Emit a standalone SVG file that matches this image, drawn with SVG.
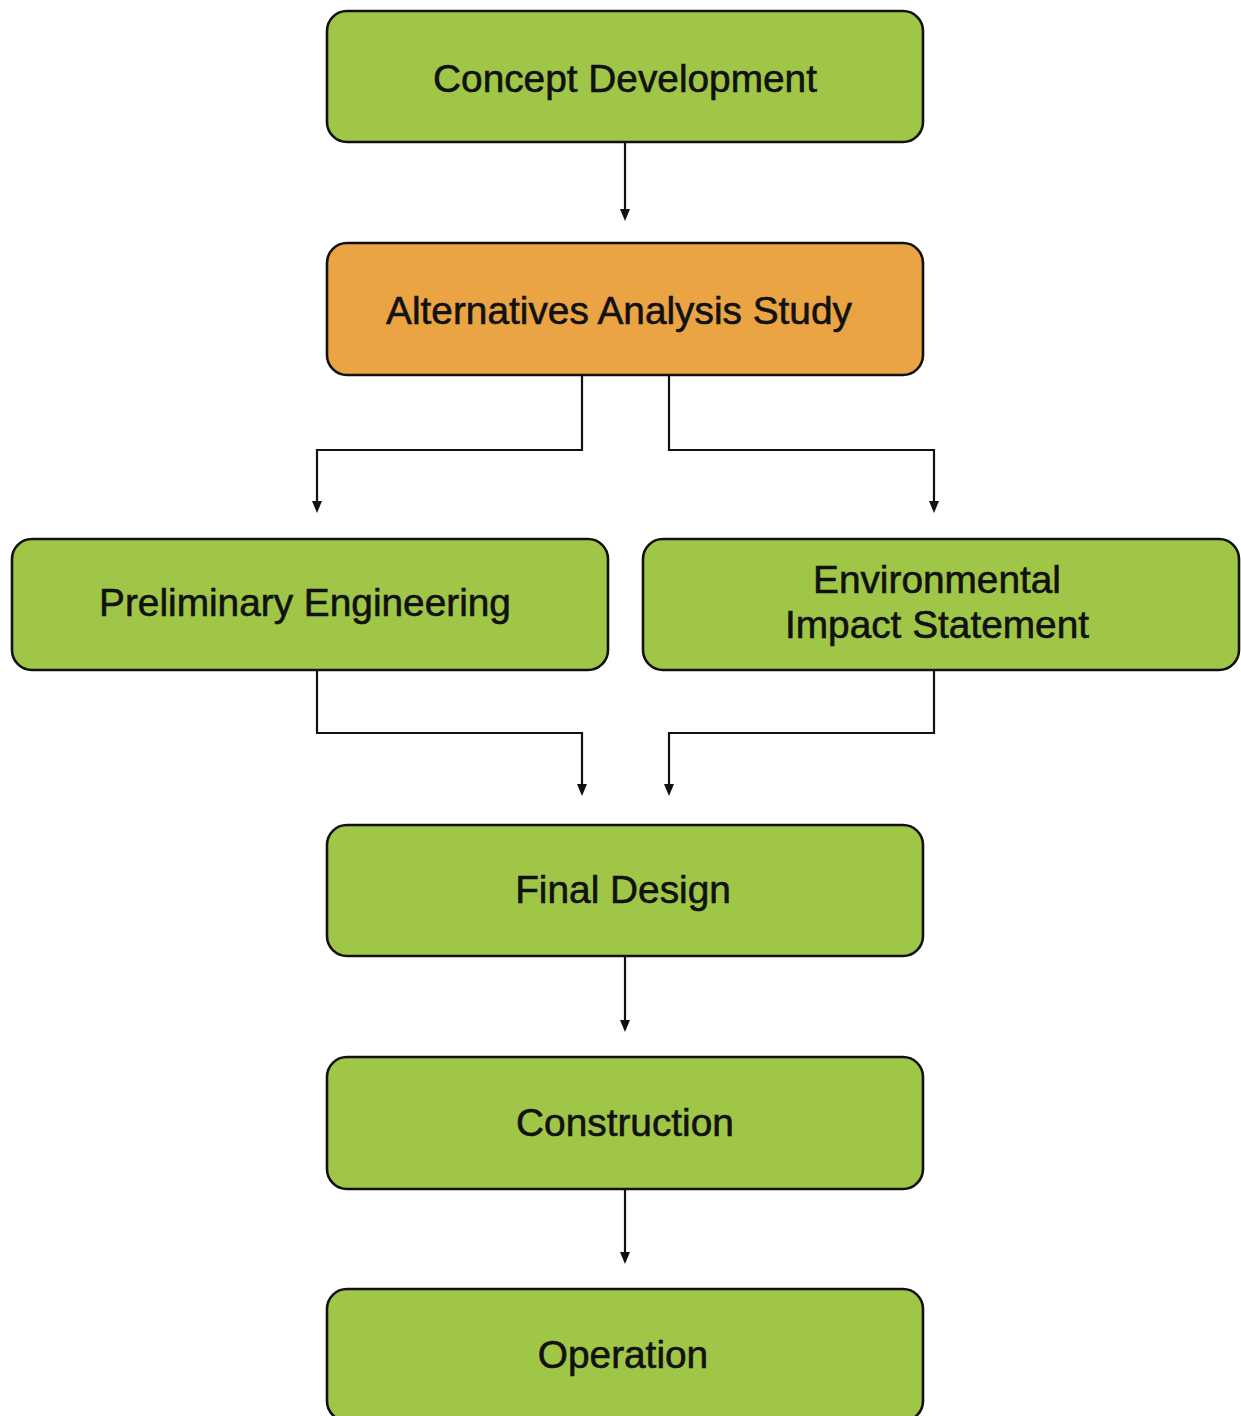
<svg xmlns="http://www.w3.org/2000/svg" width="1241" height="1416" viewBox="0 0 1241 1416">
<defs>
<style>
.box{fill:#A0C648;stroke:#111;stroke-width:2.6}
.alt{fill:#EBA444}
.lbl{font-family:"Liberation Sans",Arial,sans-serif;font-size:38.8px;fill:#111;stroke:#111;stroke-width:0.6;text-anchor:middle}
.conn{fill:none;stroke:#111;stroke-width:2.2}
.head{fill:#111}
</style>
</defs>
<rect width="1241" height="1416" fill="#fff"/>
<g id="connectors">
<path class="conn" d="M625,142 V210"/>
<path class="head" d="M620,209 L630,209 L625,221 Z"/>
<path class="conn" d="M582,375 V450 H317 V502"/>
<path class="head" d="M312,501 L322,501 L317,513 Z"/>
<path class="conn" d="M669,375 V450 H934 V502"/>
<path class="head" d="M929,501 L939,501 L934,513 Z"/>
<path class="conn" d="M317,670 V733 H582 V785"/>
<path class="head" d="M577,784 L587,784 L582,796 Z"/>
<path class="conn" d="M934,670 V733 H669 V785"/>
<path class="head" d="M664,784 L674,784 L669,796 Z"/>
<path class="conn" d="M625,956 V1021"/>
<path class="head" d="M620,1020 L630,1020 L625,1032 Z"/>
<path class="conn" d="M625,1189 V1253"/>
<path class="head" d="M620,1252 L630,1252 L625,1264 Z"/>
</g>
<g id="concept">
<rect class="box" x="327" y="11" width="596" height="131" rx="20"/>
<text class="lbl" x="625" y="92">Concept Development</text>
</g>
<g id="alternatives">
<rect class="box alt" x="327" y="243" width="596" height="132" rx="20"/>
<text class="lbl" x="619" y="324">Alternatives Analysis Study</text>
</g>
<g id="preliminary">
<rect class="box" x="12" y="539" width="596" height="131" rx="20"/>
<text class="lbl" x="305" y="616">Preliminary Engineering</text>
</g>
<g id="environmental">
<rect class="box" x="643" y="539" width="596" height="131" rx="20"/>
<text class="lbl" x="937" y="593">Environmental</text>
<text class="lbl" x="937" y="638">Impact Statement</text>
</g>
<g id="final">
<rect class="box" x="327" y="825" width="596" height="131" rx="20"/>
<text class="lbl" x="623" y="903">Final Design</text>
</g>
<g id="construction">
<rect class="box" x="327" y="1057" width="596" height="132" rx="20"/>
<text class="lbl" x="625" y="1136">Construction</text>
</g>
<g id="operation">
<rect class="box" x="327" y="1289" width="596" height="132" rx="20"/>
<text class="lbl" x="623" y="1368">Operation</text>
</g>
</svg>
